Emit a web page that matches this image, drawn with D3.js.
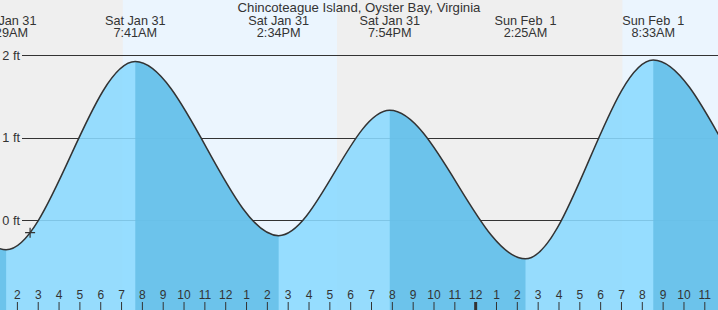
<!DOCTYPE html>
<html>
<head>
<meta charset="utf-8">
<script src="https://cdn.jsdelivr.net/npm/d3@7"></script>
<style>
  body { margin: 0; background: #fff; }
  svg { display: block; font-family: "Liberation Sans", Arial, sans-serif; }
  text { fill: #333; }
</style>
</head>
<body>
<div id="chart"></div>
<script>

var width = 718,
    height = 310;

var title = "Chincoteague Island, Oyster Bay, Virginia";

// high / low tide times (UTC used as local clock) and heights in ft
// first two and last two lie outside the visible window
var tideTimes   = ["2026-01-30T13:10", "2026-01-30T19:15", "2026-01-31T01:29", "2026-01-31T07:41",
                   "2026-01-31T14:34", "2026-01-31T19:54", "2026-02-01T02:25", "2026-02-01T08:33",
                   "2026-02-01T15:30", "2026-02-01T20:50"];
var tideHeights = [-0.15, 1.30, -0.36, 1.92, -0.19, 1.33, -0.47, 1.94, -0.18, 1.35];

// which of them get a label at the top
var labelled = [2, 3, 4, 5, 6, 7];

// daylight periods
var dayStart = ["2026-01-31T07:05", "2026-02-01T07:04"];
var dayEnd   = ["2026-01-31T17:22", "2026-02-01T17:23"];

var feetTicks = [0, 1, 2];
var markerTime = "2026-01-31T02:38";

var parse = d3.utcParse("%Y-%m-%dT%H:%M");
var tides = tideTimes.map(function(t, i) { return { date: parse(t), h: tideHeights[i] }; });

var svg = d3.select("#chart").append("svg")
    .attr("width", width)
    .attr("height", height);

// time scale: 2AM Jan 31 .. 11AM Feb 1
var x = d3.scaleUtc()
    .domain([parse("2026-01-31T02:00"), parse("2026-02-01T11:00")])
    .range([16.9, 704.3]);

var y = d3.scaleLinear()
    .domain([0, 2])
    .range([220, 55]);

// night background, day bands
svg.append("rect")
    .attr("width", width).attr("height", height)
    .attr("fill", "#efefef");

svg.selectAll(".day")
    .data(dayStart)
  .enter().append("rect")
    .attr("class", "day")
    .attr("x", function(d) { return x(parse(d)); })
    .attr("width", function(d, i) { return x(parse(dayEnd[i])) - x(parse(d)); })
    .attr("y", 0).attr("height", height)
    .attr("fill", "#ebf5fe");

// grid lines
svg.selectAll(".grid")
    .data(feetTicks)
  .enter().append("line")
    .attr("class", "grid")
    .attr("x1", 22).attr("x2", width)
    .attr("y1", function(d) { return Math.round(y(d)) + 0.5; })
    .attr("y2", function(d) { return Math.round(y(d)) + 0.5; })
    .attr("stroke", "#333").attr("stroke-width", 1);

svg.selectAll(".ftlabel")
    .data(feetTicks)
  .enter().append("text")
    .attr("class", "ftlabel")
    .attr("x", 20)
    .attr("y", function(d) { return y(d) + 4.5; })
    .attr("text-anchor", "end")
    .style("font-size", "12.7px")
    .text(function(d) { return d + " ft"; });

// water
var area = d3.area()
    .x(function(d) { return x(d.date); })
    .y0(height)
    .y1(function(d) { return y(d.h); })
    .curve(d3.curveMonotoneX);

var line = d3.line()
    .x(function(d) { return x(d.date); })
    .y(function(d) { return y(d.h); })
    .curve(d3.curveMonotoneX);

// falling tide (high -> next low) is drawn darker
var falling = [];
tides.forEach(function(d, i) {
  if (i < tides.length - 1 && tides[i + 1].h < d.h) falling.push([d.date, tides[i + 1].date]);
});

var defs = svg.append("defs");
var clip = defs.append("clipPath").attr("id", "falling");
clip.selectAll("rect")
    .data(falling)
  .enter().append("rect")
    .attr("x", function(d) { return x(d[0]); })
    .attr("width", function(d) { return x(d[1]) - x(d[0]); })
    .attr("y", 0).attr("height", height);

svg.append("path")
    .datum(tides)
    .attr("d", area)
    .attr("fill", "#8ad9ff")
    .attr("fill-opacity", 0.88);

svg.append("path")
    .datum(tides)
    .attr("d", area)
    .attr("clip-path", "url(#falling)")
    .attr("fill", "#66bfe8")
    .attr("fill-opacity", 0.88);

var curve = svg.append("path")
    .datum(tides)
    .attr("d", line)
    .attr("fill", "none")
    .attr("stroke", "#333")
    .attr("stroke-width", 1.5);

// labels for highs and lows
var fmtDay = d3.utcFormat("%a %b %e"),
    fmtTime = d3.utcFormat("%-I:%M%p");

var labels = svg.selectAll(".event")
    .data(labelled.map(function(i) { return tides[i]; }))
  .enter().append("text")
    .attr("class", "event")
    .attr("text-anchor", "middle")
    .attr("transform", function(d) { return "translate(" + x(d.date) + ",0)"; })
    .style("font-size", "12.7px")
    .style("white-space", "pre");

labels.append("tspan").attr("x", 0).attr("y", 24.5).text(function(d) { return fmtDay(d.date); });
labels.append("tspan").attr("x", 0).attr("y", 36.5).text(function(d) { return fmtTime(d.date); });

svg.append("text")
    .attr("x", 359).attr("y", 12)
    .attr("text-anchor", "middle")
    .style("font-size", "13.2px")
    .text(title);

// hour axis along the bottom
var axis = d3.axisTop(x)
    .ticks(d3.utcHour.every(1))
    .tickFormat(d3.utcFormat("%-I"))
    .tickSize(8)
    .tickPadding(3);

var gx = svg.append("g")
    .attr("transform", "translate(0," + height + ")")
    .call(axis);

gx.select(".domain").remove();
gx.selectAll("line").attr("stroke", "#333");
gx.selectAll("text")
    .style("font-size", "12px")
    .attr("fill", "#333");
gx.selectAll(".tick")
    .filter(function(d) { return d.getUTCHours() === 0; })
    .select("line")
    .attr("stroke-width", 3);

// current time marker, placed on the curve
var node = curve.node(),
    len = node.getTotalLength(),
    mx = x(parse(markerTime)),
    lo = 0, hi = len;
for (var k = 0; k < 40; k++) {
  var mid = (lo + hi) / 2;
  if (node.getPointAtLength(mid).x < mx) lo = mid; else hi = mid;
}
var my = node.getPointAtLength(lo).y;

svg.append("path")
    .attr("d", "M" + (mx - 5) + "," + my + "h10M" + mx + "," + (my - 5) + "v10")
    .attr("stroke", "#333")
    .attr("stroke-width", 1.2);

</script>
</body>
</html>
